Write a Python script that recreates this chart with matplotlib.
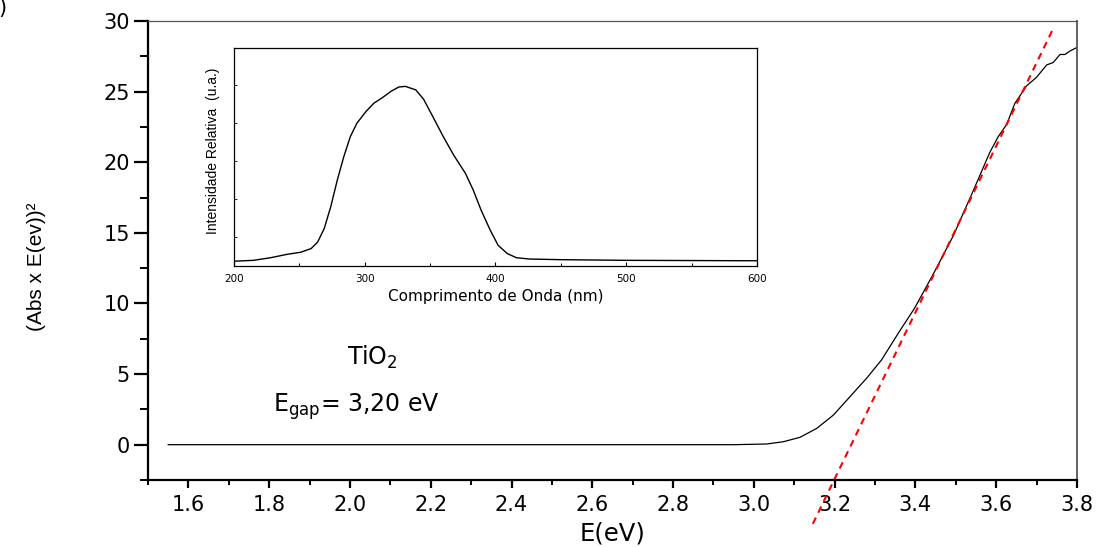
import matplotlib
matplotlib.use("Agg")
import matplotlib.pyplot as plt
from matplotlib import font_manager as fm
from matplotlib.ticker import MultipleLocator, FixedLocator

# Main Tauc curve
energy_ev = [1.55, 2.0, 2.5, 2.867, 2.949, 3.032, 3.073, 3.114, 3.156, 3.197, 3.238,
             3.279, 3.316, 3.361, 3.398, 3.443, 3.493, 3.543, 3.584, 3.605, 3.626,
             3.646, 3.675, 3.700, 3.725, 3.741, 3.758, 3.770, 3.783, 3.800]
tauc_values = [0.0, 0.0, 0.0, 0.0, 0.0, 0.05, 0.21, 0.52, 1.16, 2.10, 3.40,
               4.70, 6.00, 8.05, 9.67, 12.02, 14.75, 17.97, 20.69, 21.81, 22.68,
               24.16, 25.40, 26.02, 26.89, 27.06, 27.63, 27.63, 27.88, 28.13]

# Linear fit (extrapolation to the band gap)
fit_x = [3.146, 3.740]
fit_y = [-5.6, 29.4]

# Inset spectrum (relative intensity, arbitrary units)
wavelength_nm = [200, 215, 228, 241, 251, 259, 264, 269, 274, 279, 284, 289, 294, 301,
                 307, 313, 320, 326, 331, 339, 345, 352, 360, 368, 377, 383, 389, 396,
                 402, 409, 416, 426, 434, 450, 500, 550, 600]
intensity = [0.022, 0.026, 0.038, 0.054, 0.063, 0.080, 0.110, 0.172, 0.272, 0.394,
             0.502, 0.594, 0.655, 0.709, 0.747, 0.770, 0.801, 0.821, 0.824, 0.808,
             0.765, 0.686, 0.594, 0.509, 0.425, 0.348, 0.256, 0.164, 0.095, 0.057,
             0.038, 0.032, 0.031, 0.029, 0.026, 0.025, 0.024]

x_ticks = [1.6, 1.8, 2.0, 2.2, 2.4, 2.6, 2.8, 3.0, 3.2, 3.4, 3.6, 3.8]
y_ticks = [0, 5, 10, 15, 20, 25, 30]
inset_ticks = [200, 300, 400, 500, 600]


def pick_font(names):
    for n in names:
        try:
            fm.findfont(fm.FontProperties(family=n), fallback_to_default=False)
            return n
        except Exception:
            pass
    return 'DejaVu Sans'


narrow = pick_font(['Liberation Sans Narrow', 'Arial Narrow', 'Liberation Sans'])
is_narrow = narrow != 'Liberation Sans'

plt.rcParams['font.family'] = ['DejaVu Sans']
plt.rcParams['mathtext.fontset'] = 'dejavusans'

W, H = 1097, 547
fig = plt.figure(figsize=(W / 100, H / 100), dpi=100)
L, R, T, B = 148, 1077, 21, 480
ax = fig.add_axes([L / W, (H - B) / H, (R - L) / W, (B - T) / H])

ax.plot(energy_ev, tauc_values, color='black', lw=0.9)
ax.plot(fit_x, fit_y, color='#ff0000', lw=1.5, ls=(0, (3.3, 2.6)), clip_on=False)

ax.set_xlim(1.5, 3.8)
ax.set_ylim(-2.5, 30)
ax.xaxis.set_major_locator(FixedLocator(x_ticks))
ax.xaxis.set_minor_locator(MultipleLocator(0.1))
ax.yaxis.set_major_locator(FixedLocator(y_ticks))
ax.yaxis.set_minor_locator(MultipleLocator(2.5))
ax.set_xticklabels([f"{v:.1f}" for v in x_ticks])
ax.set_yticklabels([str(v) for v in y_ticks])
ax.tick_params(axis='x', which='major', direction='out', length=6, width=1.6,
               labelsize=15, pad=5, top=False)
ax.tick_params(axis='x', which='minor', direction='out', length=3.8, width=1.4, top=False)
ax.tick_params(axis='y', which='major', direction='out', length=10, width=1.6,
               labelsize=15, pad=3, right=False)
ax.tick_params(axis='y', which='minor', direction='out', length=5.8, width=1.4, right=False)
for s in ['left', 'bottom']:
    ax.spines[s].set_linewidth(1.6)
ax.spines['top'].set_linewidth(0.9)
ax.spines['top'].set_color('#555555')
ax.spines['right'].set_linewidth(1.3)
ax.spines['right'].set_color('#555555')

ax.set_xlabel('E(eV)', fontsize=17.5, va='center')
ax.xaxis.set_label_coords(0.5, (B - 534) / (B - T))
ax.set_ylabel('(Abs x E(ev))²', fontsize=(17 if is_narrow else 15), family=narrow,
              va='center')
ax.yaxis.set_label_coords((37 - L) / (R - L), (B - 267) / (B - T))

fig.text(347 / W, (H - 365) / H, 'TiO$_2$', fontsize=17, ha='left', va='baseline')
fig.text(273 / W, (H - 411.5) / H, r'E$_{\mathrm{gap}}$= 3,20 eV', fontsize=17,
         ha='left', va='baseline')

fig.text(6 / W, 1 - 18 / H, ')', fontsize=15, ha='right', va='bottom')

# Inset
iL, iR, iT, iB = 234, 757, 48, 266
ins = fig.add_axes([iL / W, (H - iB) / H, (iR - iL) / W, (iB - iT) / H])
ins.plot(wavelength_nm, intensity, color='black', lw=1.0)
ins.set_xlim(200, 600)
ins.set_ylim(0, 1)
ins.xaxis.set_major_locator(FixedLocator(inset_ticks))
ins.xaxis.set_minor_locator(MultipleLocator(50))
ins.set_xticklabels([str(v) for v in inset_ticks])
ins.yaxis.set_major_locator(MultipleLocator(0.1735, offset=0.134))
ins.set_yticklabels([])
ins.tick_params(axis='x', which='major', direction='in', length=3, width=0.8,
                labelsize=7.5, pad=6)
ins.tick_params(axis='x', which='minor', direction='in', length=2.5, width=0.7)
ins.tick_params(axis='y', which='major', direction='in', length=2.5, width=0.6,
                labelleft=False)
for s in ins.spines.values():
    s.set_linewidth(0.9)
ins.set_xlabel('Comprimento de Onda (nm)', fontsize=11, va='center')
ins.xaxis.set_label_coords(0.5, (iB - 297) / (iB - iT))
ins.set_ylabel('Intensidade Relativa  (u.a.)', fontsize=(11.5 if is_narrow else 10),
               family=narrow, va='center')
ins.yaxis.set_label_coords((213 - iL) / (iR - iL), (iB - 151) / (iB - iT))

fig.savefig('out.png', dpi=100)
